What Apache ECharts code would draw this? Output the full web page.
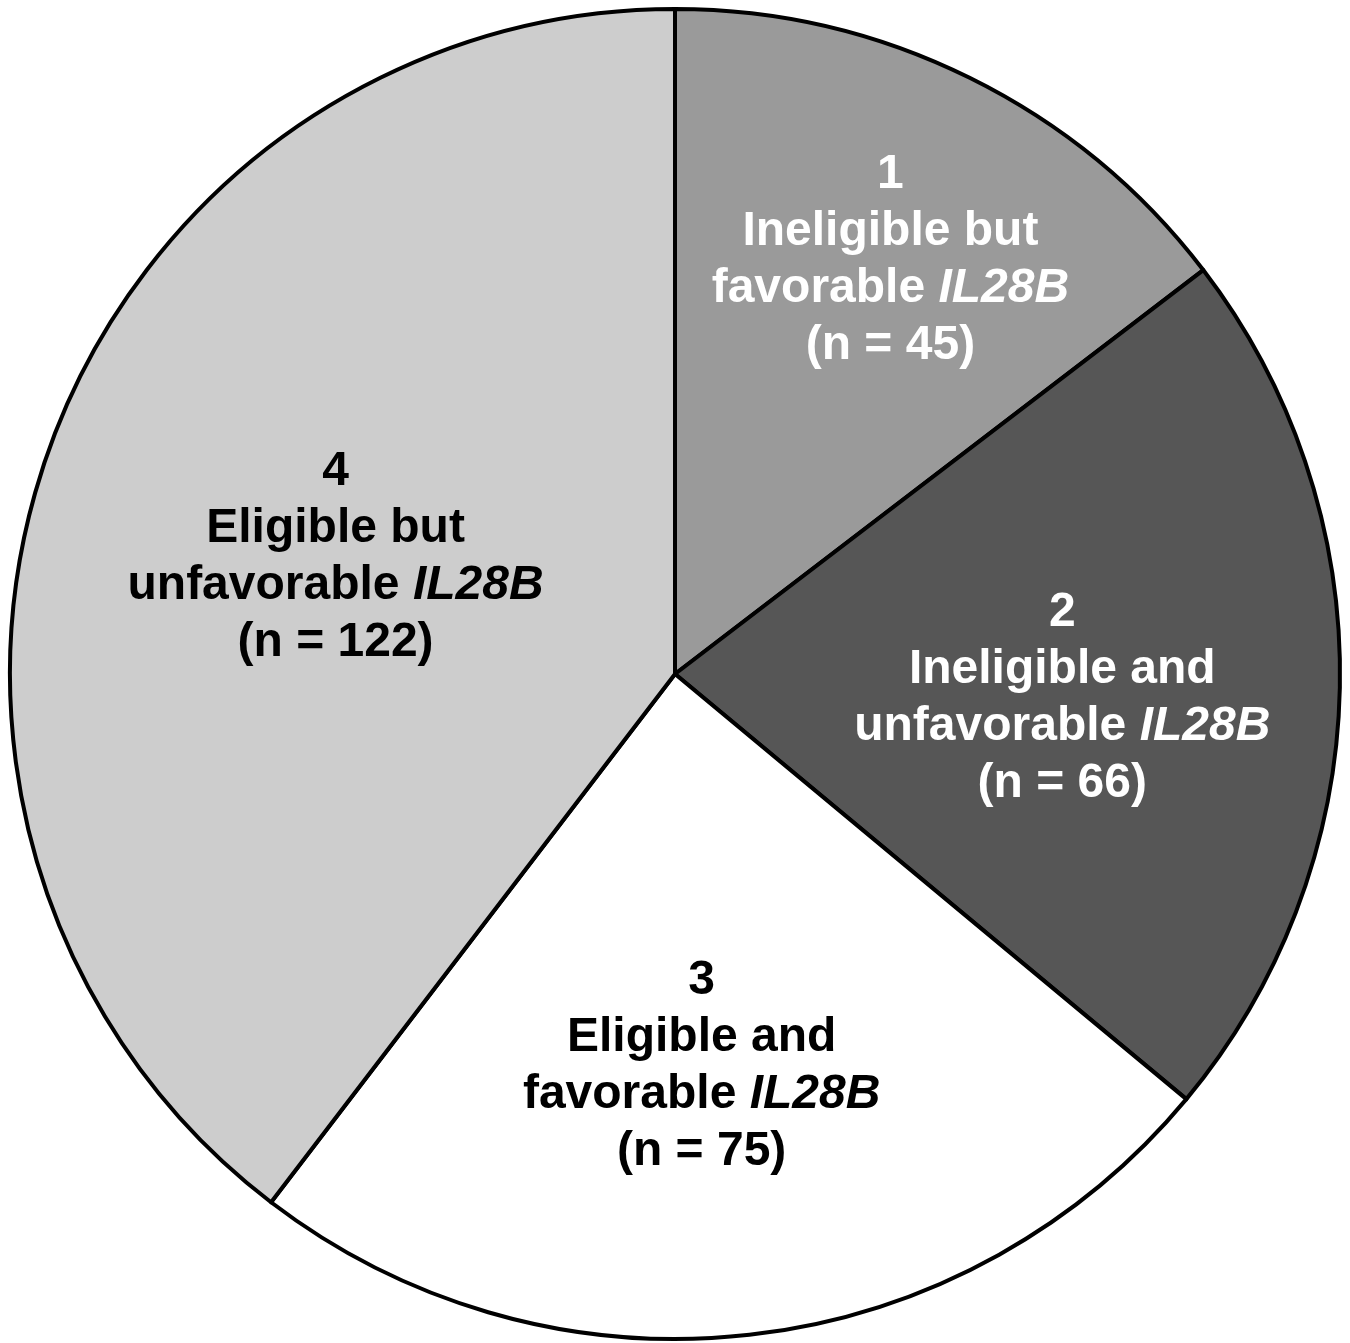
<!DOCTYPE html>
<html>
<head>
<meta charset="utf-8">
<script src="https://cdn.jsdelivr.net/npm/echarts@6/dist/echarts.min.js"></script>
<style>
  html, body { margin: 0; padding: 0; background: #ffffff; }
  #chart { width: 1350px; height: 1343px; }
</style>
</head>
<body>
<div id="chart"></div>
<script>
// ---- data ----
const groupNumbers = ["1", "2", "3", "4"];
const eligibilityText = ["Ineligible but", "Ineligible and", "Eligible and", "Eligible but"];
const genotypeText = ["favorable", "unfavorable", "favorable", "unfavorable"];
const geneName = "IL28B";
const patientCounts = [45, 66, 75, 122];

// ---- styles ----
const sliceColors = ["#9a9a9a", "#565656", "#ffffff", "#cdcdcd"];
const labelColors = ["#ffffff", "#ffffff", "#000000", "#000000"];
const pieCenter = [675, 674];
const pieRadius = 665;
// label placement relative to the default inside position (radial scale, angular shift in degrees)
const labelRadialScale = [1.40, 1.156, 1.16, 1.074];
const labelAngleShift = [1.0, 1.9, 2.5, 0.9];
const labelNudgeY = 4;

const chart = echarts.init(document.getElementById('chart'), null, { renderer: 'canvas' });

const data = patientCounts.map((v, i) => ({
  name: groupNumbers[i],
  value: v,
  itemStyle: { color: sliceColors[i] },
  label: { color: labelColors[i] }
}));

const font = '"Liberation Sans", Arial, Helvetica, sans-serif';
const baseRich = { fontFamily: font, fontWeight: 'bold', fontSize: 48, lineHeight: 57 };

chart.setOption({
  animation: false,
  backgroundColor: '#ffffff',
  series: [{
    type: 'pie',
    center: pieCenter,
    radius: [0, pieRadius],
    startAngle: 90,
    clockwise: true,
    avoidLabelOverlap: false,
    itemStyle: { borderColor: '#000000', borderWidth: 4 },
    emphasis: { disabled: true },
    label: {
      show: true,
      position: 'inside',
      align: 'center',
      formatter: function (p) {
        const i = p.dataIndex;
        return '{b|' + groupNumbers[i] + '}\n' +
               '{b|' + eligibilityText[i] + '}\n' +
               '{b|' + genotypeText[i] + ' }{it|' + geneName + '}\n' +
               '{b|(n = ' + patientCounts[i] + ')}';
      },
      rich: {
        b: Object.assign({}, baseRich),
        it: Object.assign({}, baseRich, { fontStyle: 'italic' })
      }
    },
    labelLine: { show: false },
    labelLayout: function (params) {
      const i = params.dataIndex;
      const r = params.labelRect;
      const cx = r.x + r.width / 2;
      const cy = r.y + r.height / 2;
      const vx = cx - pieCenter[0];
      const vy = cy - pieCenter[1];
      const d = labelAngleShift[i] * Math.PI / 180;
      const k = labelRadialScale[i];
      const nx = k * (vx * Math.cos(d) - vy * Math.sin(d));
      const ny = k * (vx * Math.sin(d) + vy * Math.cos(d));
      return { dx: nx - vx, dy: ny - vy + labelNudgeY };
    },
    data: data
  }]
});
</script>
</body>
</html>
